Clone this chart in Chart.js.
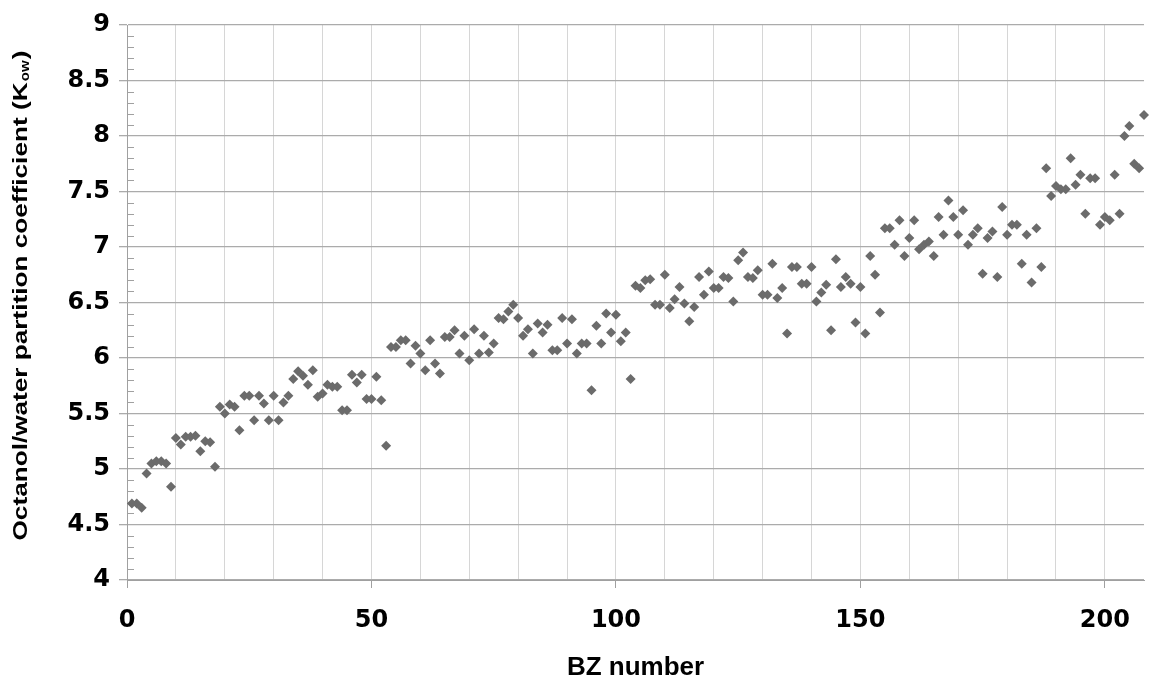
<!DOCTYPE html>
<html>
<head>
<meta charset="utf-8">
<title>Octanol/water partition coefficient by BZ number</title>
<script src="https://cdn.jsdelivr.net/npm/chart.js@4.4.1/dist/chart.umd.min.js"></script>
<style>
    body { margin: 0; background: #ffffff; }
    #wrap { width: 1149px; height: 681px; }
</style>
</head>
<body>
<div id="wrap"><canvas id="kowChart" width="1149" height="681"></canvas></div>
<script>
// log Kow par congénère, BZ 1 à 208
const kowValues = [
    4.69, 4.69, 4.65, 4.96, 5.05, 5.07, 5.07, 5.05, 4.84, 5.28,
    5.22, 5.29, 5.29, 5.30, 5.16, 5.25, 5.24, 5.02, 5.56, 5.50,
    5.58, 5.56, 5.35, 5.66, 5.66, 5.44, 5.66, 5.59, 5.44, 5.66,
    5.44, 5.60, 5.66, 5.81, 5.88, 5.84, 5.76, 5.89, 5.65, 5.68,
    5.76, 5.74, 5.74, 5.53, 5.53, 5.85, 5.78, 5.85, 5.63, 5.63,
    5.83, 5.62, 5.21, 6.10, 6.10, 6.16, 6.16, 5.95, 6.11, 6.04,
    5.89, 6.16, 5.95, 5.86, 6.19, 6.19, 6.25, 6.04, 6.20, 5.98,
    6.26, 6.04, 6.20, 6.05, 6.13, 6.36, 6.35, 6.42, 6.48, 6.36,
    6.20, 6.26, 6.04, 6.31, 6.23, 6.30, 6.07, 6.07, 6.36, 6.13,
    6.35, 6.04, 6.13, 6.13, 5.71, 6.29, 6.13, 6.40, 6.23, 6.39,
    6.15, 6.23, 5.81, 6.65, 6.63, 6.70, 6.71, 6.48, 6.48, 6.75,
    6.45, 6.53, 6.64, 6.49, 6.33, 6.46, 6.73, 6.57, 6.78, 6.63,
    6.63, 6.73, 6.72, 6.51, 6.88, 6.95, 6.73, 6.72, 6.79, 6.57,
    6.57, 6.85, 6.54, 6.63, 6.22, 6.82, 6.82, 6.67, 6.67, 6.82,
    6.51, 6.59, 6.66, 6.25, 6.89, 6.64, 6.73, 6.67, 6.32, 6.64,
    6.22, 6.92, 6.75, 6.41, 7.17, 7.17, 7.02, 7.24, 6.92, 7.08,
    7.24, 6.98, 7.02, 7.05, 6.92, 7.27, 7.11, 7.42, 7.27, 7.11,
    7.33, 7.02, 7.11, 7.17, 6.76, 7.08, 7.14, 6.73, 7.36, 7.11,
    7.20, 7.20, 6.85, 7.11, 6.68, 7.17, 6.82, 7.71, 7.46, 7.55,
    7.52, 7.52, 7.80, 7.56, 7.65, 7.30, 7.62, 7.62, 7.20, 7.27,
    7.24, 7.65, 7.30, 8.00, 8.09, 7.75, 7.71, 8.19
];

// Axes
const xRange = [0, 208];
const yRange = [4, 9];
const xLabelStep = 50;
const yLabelStep = 0.5;

const xTitle = 'BZ number';
const yTitleMain = 'Octanol/water partition coefficient (K';
const yTitleSub = 'ow';
const yTitleEnd = ')';

const isMajorY = v => Math.abs(v / yLabelStep - Math.round(v / yLabelStep)) < 1e-6;

// Petites graduations à l'intérieur de l'axe Y + titre Y avec indice
const axisExtras = {
    id: 'axisExtras',
    beforeDatasetsDraw(chart) {
        const ctx = chart.ctx;
        const y = chart.scales.y;
        const left = chart.chartArea.left;
        ctx.save();
        ctx.strokeStyle = '#a0a0a0';
        ctx.lineWidth = 1;
        y.ticks.forEach(t => {
            if (isMajorY(t.value)) return;
            const py = Math.round(y.getPixelForValue(t.value)) + 0.5;
            ctx.beginPath();
            ctx.moveTo(left, py);
            ctx.lineTo(left + 7, py);
            ctx.stroke();
        });
        ctx.restore();
    },
    afterDraw(chart) {
        const ctx = chart.ctx;
        const area = chart.chartArea;
        const mainFont = 'bold 21px "Liberation Sans", Arial, sans-serif';
        const subFont = 'bold 12px "Liberation Sans", Arial, sans-serif';
        ctx.save();
        ctx.font = mainFont;
        const w1 = ctx.measureText(yTitleMain).width;
        const w3 = ctx.measureText(yTitleEnd).width;
        ctx.font = subFont;
        const w2 = ctx.measureText(yTitleSub).width + 2;
        const total = w1 + w2 + w3;
        // le titre occupe presque toute la hauteur du graphique
        const stretch = 490 / total;
        ctx.translate(21, (area.top + area.bottom) / 2 - 7);
        ctx.rotate(-Math.PI / 2);
        ctx.scale(stretch, 1);
        ctx.fillStyle = '#000000';
        ctx.textBaseline = 'middle';
        ctx.textAlign = 'left';
        let x = -total / 2;
        ctx.font = mainFont;
        ctx.fillText(yTitleMain, x, 0);
        x += w1;
        ctx.font = subFont;
        ctx.fillText(yTitleSub, x + 1, 5);
        x += w2;
        ctx.font = mainFont;
        ctx.fillText(yTitleEnd, x, 0);
        ctx.restore();
    }
};

const points = kowValues.map((v, i) => ({ x: i + 1, y: v }));

new Chart(document.getElementById('kowChart'), {
    type: 'scatter',
    data: {
        datasets: [{
            label: 'log Kow',
            data: points,
            pointStyle: 'rectRot',
            pointRadius: 5,
            backgroundColor: '#6b6b6b',
            borderWidth: 0,
            clip: false
        }]
    },
    options: {
        responsive: false,
        animation: false,
        events: [],
        layout: { padding: { top: 25, right: 0, bottom: 0, left: 0 } },
        plugins: {
            legend: { display: false },
            tooltip: { enabled: false }
        },
        scales: {
            x: {
                type: 'linear',
                min: xRange[0],
                max: xRange[1],
                afterFit: s => { s.height = 101; },
                border: { color: '#a0a0a0' },
                grid: {
                    color: '#d6d6d6',
                    tickLength: 8,
                    tickColor: c => (c.tick && c.tick.value % xLabelStep === 0) ? '#a0a0a0' : 'rgba(0,0,0,0)'
                },
                ticks: {
                    stepSize: 10,
                    includeBounds: false,
                    autoSkip: false,
                    maxRotation: 0,
                    padding: 18,
                    color: '#000000',
                    font: { family: '"DejaVu Sans", Verdana, sans-serif', size: 24, weight: 'bold' },
                    callback: v => (v % xLabelStep === 0) ? String(v) : ''
                },
                title: {
                    display: true,
                    text: xTitle,
                    color: '#000000',
                    font: { family: '"Liberation Sans", Arial, sans-serif', size: 26, weight: 'bold', lineHeight: 1 },
                    padding: { top: 0, bottom: 0 }
                }
            },
            y: {
                type: 'linear',
                min: yRange[0],
                max: yRange[1],
                afterFit: s => { s.width = 127; },
                border: { color: '#a0a0a0' },
                grid: {
                    tickLength: 8,
                    lineWidth: 1.3,
                    color: c => (c.tick && isMajorY(c.tick.value)) ? '#ababab' : 'rgba(0,0,0,0)',
                    tickColor: c => (c.tick && isMajorY(c.tick.value)) ? '#ababab' : 'rgba(0,0,0,0)'
                },
                ticks: {
                    stepSize: 0.1,
                    autoSkip: false,
                    padding: 9,
                    color: '#000000',
                    font: { family: '"DejaVu Sans", Verdana, sans-serif', size: 24, weight: 'bold' },
                    callback: v => isMajorY(v) ? String(Number(v.toFixed(1))) : ''
                }
            }
        }
    },
    plugins: [axisExtras]
});
</script>
</body>
</html>
